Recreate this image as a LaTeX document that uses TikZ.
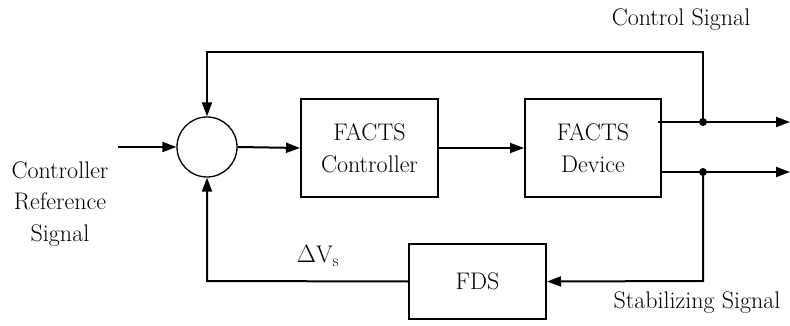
\documentclass[tikz,border=0pt]{standalone}
\usepackage{fontspec}
\setmainfont{Latin Modern Roman}
\usetikzlibrary{arrows.meta,calc}
\begin{document}
\begin{tikzpicture}[x=1pt,y=-1pt,
  every node/.style={font=\fontsize{24}{31.5}\selectfont},
  blockbox/.style={draw,line width=2pt,minimum width=137pt,minimum height=98pt,inner sep=0pt,align=center},
  sumnode/.style={draw,circle,line width=1.3pt,minimum size=60pt,inner sep=0pt},
  wire/.style={line width=2pt},
  arr/.style={wire,-{Triangle[length=14pt,width=10pt]}},
  junction/.style={circle,fill,inner sep=0pt,minimum size=8pt},
  lbl/.style={inner sep=0pt,align=center}]
\useasboundingbox (0,0) rectangle (790,326);
\node[sumnode] (sum) at (207,147) {};
\node[blockbox] (ctrl) at (369.5,148) {FACTS\\Controller};
\node[blockbox,minimum width=136pt] (dev) at (593,148) {FACTS\\Device};
\node[blockbox,minimum height=75pt] (fds) at (477.5,281.5) {FDS};
\coordinate (in) at (118,147);
\coordinate (s1) at (658,122);
\coordinate (s2) at (661,172);
\node[junction] (j1) at (703,122) {};
\node[junction] (j2) at (703,172) {};
\coordinate (o1) at (790,122);
\coordinate (o2) at (790,172);
\coordinate (top) at (703,52);
\coordinate (bot) at (703,281);
\coordinate (bl) at (207,281);
\node[lbl] (cs) at (681,20) {Control Signal};
\node[lbl] (crs) at (60,204) {Controller\\Reference\\Signal};
\node[lbl] (dv) at (318,256) {$\Delta\mathrm{V}_{\mathrm{s}}$};
\node[lbl] (ss) at (697,303) {Stabilizing Signal};
\draw[arr] (in) -- (sum.west);
\draw[arr] (sum.east) -- (ctrl.west);
\draw[arr] (ctrl.east) -- (dev.west);
\draw[arr] (s1) -- (o1);
\draw[arr] (s2) -- (o2);
\draw[arr] (j1.center) -- (top) -| (sum.north);
\draw[arr] (j2.center) -- (bot) -- (fds.east);
\draw[arr] (fds.west) -- (bl) -- (sum.south);
\end{tikzpicture}
\end{document}
